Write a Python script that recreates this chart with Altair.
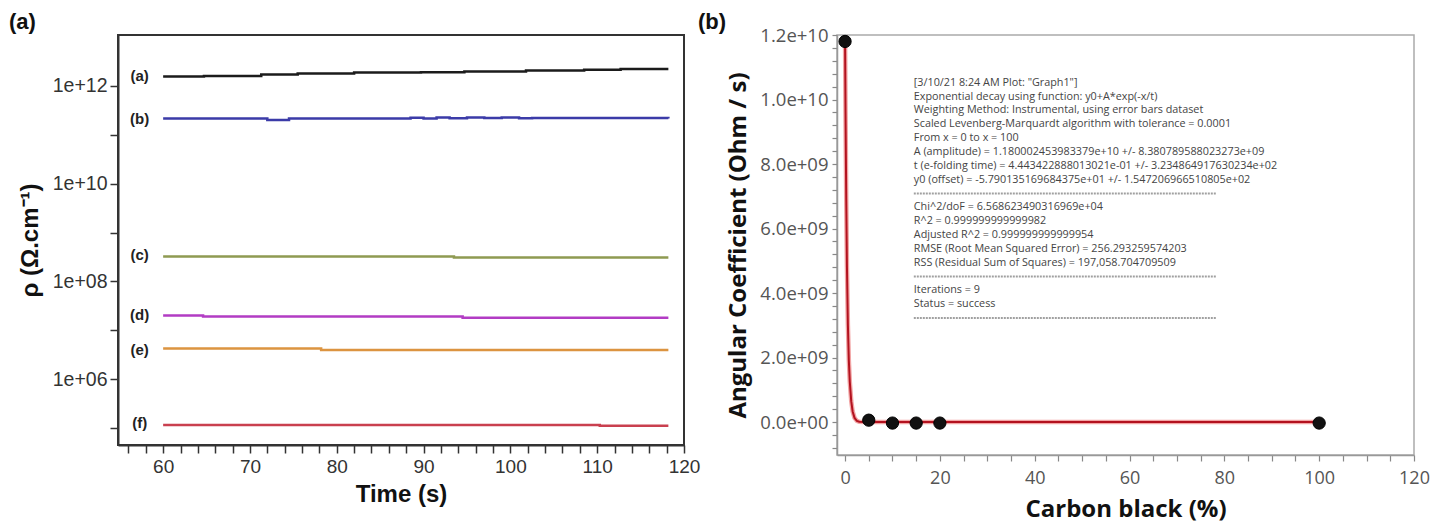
import altair as alt
import pandas as pd

# ---------------- Panel (a): resistivity vs time ----------------
series_names = ["(a)", "(b)", "(c)", "(d)", "(e)", "(f)"]
series_colors = ["#1b1b1b", "#3b3ba8", "#8f9a52", "#b23cc4", "#dc9440", "#c9404f"]

t_a = [60, 64.7, 71.3, 75.5, 82, 89.7, 94.7, 101.8, 108.5, 112.7, 118.2]
v_a = [1.56e12, 1.60e12, 1.71e12, 1.80e12, 1.88e12, 1.91e12, 1.97e12, 2.07e12, 2.13e12, 2.23e12, 2.23e12]
t_b = [60, 72, 74.5, 88.5, 90, 91.5, 93, 95, 97, 99, 101, 102.5, 118.2]
v_b = [2.15e11, 2.01e11, 2.15e11, 2.22e11, 2.15e11, 2.25e11, 2.18e11, 2.25e11, 2.2e11, 2.25e11, 2.17e11, 2.2e11, 2.15e11]
t_c = [60, 93.5, 118.2]
v_c = [3.24e8, 3.09e8, 3.09e8]
t_d = [60, 64.6, 94.5, 118.2]
v_d = [2.01e7, 1.92e7, 1.80e7, 1.80e7]
t_e = [60, 78.2, 118.2]
v_e = [4.24e6, 3.97e6, 3.97e6]
t_f = [60, 110.3, 118.2]
v_f = [1.16e5, 1.12e5, 1.12e5]

label_t = 57.3
label_v = [1.56e12, 2.15e11, 3.5e8, 2.05e7, 4.0e6, 1.25e5]

left_x_ticks = list(range(56, 121, 2))
left_y_ticks = [1e5, 1e6, 1e7, 1e8, 1e9, 1e10, 1e11, 1e12]
left_y_labels = ["", "1e+06", "", "1e+08", "", "1e+10", "", "1e+12"]

# ---------------- Panel (b): angular coefficient vs carbon black ----------------
carbon = [0, 5, 10, 15, 20, 100]
coef = [1.18e10, 6e7, -3e7, -3e7, -3e7, -3e7]

fit_x = [0, 0.1, 0.25, 0.4, 0.6, 0.8, 1.0, 1.3, 1.6, 2.0, 2.5, 3.0, 4.0, 5, 10, 20, 50, 100]
fit_y = [1.18e10, 9.6e9, 6.9e9, 4.8e9, 3.0e9, 1.9e9, 1.25e9, 6.5e8, 3.3e8, 1.3e8, 4e7, 1e7, 0, 0, 0, 0, 0, 0]

right_x_ticks = list(range(0, 121, 5))
right_y_ticks = [-8e8, -4e8] + [i * 4e8 for i in range(0, 31)]
right_y_major = [0, 2e9, 4e9, 6e9, 8e9, 1e10, 1.2e10]
right_y_major_labels = ["0.0e+00", "2.0e+09", "4.0e+09", "6.0e+09", "8.0e+09", "1.0e+10", "1.2e+10"]

# fit report ("" marks a separator row)
fit_lines = [
    '[3/10/21 8:24 AM Plot: "Graph1"]',
    "Exponential decay using function: y0+A*exp(-x/t)",
    "Weighting Method: Instrumental, using error bars dataset",
    "Scaled Levenberg-Marquardt algorithm with tolerance = 0.0001",
    "From x = 0 to x = 100",
    "A (amplitude) = 1.180002453983379e+10 +/- 8.380789588023273e+09",
    "t (e-folding time) = 4.443422888013021e-01 +/- 3.234864917630234e+02",
    "y0 (offset) = -5.790135169684375e+01 +/- 1.547206966510805e+02",
    "",
    "Chi^2/doF = 6.568623490316969e+04",
    "R^2 = 0.999999999999982",
    "Adjusted R^2 = 0.999999999999954",
    "RMSE (Root Mean Squared Error) = 256.293259574203",
    "RSS (Residual Sum of Squares) = 197,058.704709509",
    "",
    "Iterations = 9",
    "Status = success",
    "",
]
fit_text_x = 14.5
fit_text_top = 1.052e10
fit_line_step = 4.29e8
sep_x_end = 78.2


def label_expr(values, labels):
    expr = "''"
    for v, l in zip(values, labels):
        expr = f"abs(datum.value - {v!r}) < 1 ? '{l}' : ({expr})"
    return expr


# ---------------- build data tables ----------------
rows = []
for name, ts, vs in zip(series_names, [t_a, t_b, t_c, t_d, t_e, t_f], [v_a, v_b, v_c, v_d, v_e, v_f]):
    for t, v in zip(ts, vs):
        rows.append({"series": name, "t": t, "v": v})
df_left = pd.DataFrame(rows)
df_lab = pd.DataFrame({"label": series_names, "t": [label_t] * 6, "v": label_v})

LFONT = "Liberation Sans"
RFONT = "Open Sans"

lx = alt.X("t:Q", scale=alt.Scale(domain=[54.8, 120], nice=False, zero=False),
           axis=alt.Axis(values=left_x_ticks, labelExpr="datum.value % 10 == 0 ? datum.value : ''",
                         title="Time (s)", grid=False, domainColor="#333", domainWidth=2,
                         tickColor="#333", tickWidth=1.5, tickSize=8, labelFont=LFONT,
                         labelFontSize=19, labelColor="#333", labelPadding=4,
                         titleFont=LFONT, titleFontSize=24, titleFontWeight="bold",
                         titleColor="#111", titlePadding=6, labelFlush=False, labelOverlap=False))
ly = alt.Y("v:Q", scale=alt.Scale(type="log", domain=[4.5e4, 1.1e13], nice=False),
           axis=alt.Axis(values=left_y_ticks, labelExpr=label_expr(left_y_ticks, left_y_labels),
                         title="ρ (Ω.cm⁻¹)", grid=False, domainColor="#333", domainWidth=2,
                         tickColor="#333", tickWidth=1.5, tickSize=8, labelFont=LFONT,
                         labelFontSize=19.5, labelColor="#333", labelPadding=3,
                         titleFont=LFONT, titleFontSize=24, titleFontWeight="bold",
                         titleColor="#111", titlePadding=10, labelFlush=False, labelOverlap=False))

left_lines = alt.Chart(df_left).mark_line(interpolate="step-after", strokeWidth=2.5).encode(
    x=lx, y=ly,
    color=alt.Color("series:N", scale=alt.Scale(domain=series_names, range=series_colors), legend=None),
    detail="series:N",
)
left_labels = alt.Chart(df_lab).mark_text(font=LFONT, fontWeight="bold", fontSize=15, color="#222").encode(
    x=lx, y=ly, text="label:N"
)
panel_a = alt.Chart(pd.DataFrame({"k": [0]})).mark_text(
    font=LFONT, fontWeight="bold", fontSize=22, color="#111", align="left", baseline="middle"
).encode(x=alt.value(-109), y=alt.value(-13), text=alt.value("(a)"))

left = alt.layer(left_lines, left_labels, panel_a).properties(
    width=566, height=410, view=alt.ViewBackground(stroke="#333", strokeWidth=2)
)

# right
df_pts = pd.DataFrame({"x": carbon, "y": coef})
df_fit = pd.DataFrame({"x": fit_x, "y": fit_y})
txt_rows, sep_rows = [], []
for i, line in enumerate(fit_lines):
    yv = fit_text_top - i * fit_line_step
    if line:
        txt_rows.append({"x": fit_text_x, "y": yv, "text": line})
    else:
        sep_rows.append({"x": fit_text_x, "x2": sep_x_end, "y": yv})
df_txt = pd.DataFrame(txt_rows)
df_sep = pd.DataFrame(sep_rows)

rx = alt.X("x:Q", scale=alt.Scale(domain=[-1.7, 120], nice=False, zero=False),
           axis=alt.Axis(values=right_x_ticks, labelExpr="datum.value % 20 == 0 ? datum.value : ''",
                         title="Carbon black (%)", grid=False, domainColor="#999", domainWidth=1.5,
                         tickColor="#888", tickWidth=1.2, tickSize=6, labelFont=RFONT,
                         labelFontSize=18, labelColor="#555", labelPadding=8,
                         titleFont=RFONT, titleFontSize=24, titleFontWeight="bold",
                         titleColor="#111", titlePadding=10, labelFlush=False, labelOverlap=False))
ry = alt.Y("y:Q", scale=alt.Scale(domain=[-1.02e9, 1.2e10], nice=False, zero=False),
           axis=alt.Axis(values=right_y_ticks, labelExpr=label_expr(right_y_major, right_y_major_labels),
                         title="Angular Coefficient (Ohm / s)", grid=False, domainColor="#999",
                         domainWidth=1.5, tickColor="#888", tickWidth=1.2, tickSize=5,
                         labelFont=RFONT, labelFontSize=18.5, labelColor="#555", labelPadding=4,
                         titleFont=RFONT, titleFontSize=24, titleFontWeight="bold",
                         titleColor="#111", titlePadding=9, labelFlush=False, labelOverlap=False))

fit_halo = alt.Chart(df_fit).mark_line(color="#f2a5a5", strokeWidth=4.5).encode(x=rx, y=ry)
fit_line = alt.Chart(df_fit).mark_line(color="#b3121f", strokeWidth=2).encode(x=rx, y=ry)
pts = alt.Chart(df_pts).mark_circle(size=150, color="#111", opacity=1, stroke="#000", strokeWidth=1).encode(x=rx, y=ry)
txt = alt.Chart(df_txt).mark_text(font=RFONT, fontSize=10.8, color="#444", align="left",
                                  baseline="middle").encode(x=rx, y=ry, text="text:N")
seps = alt.Chart(df_sep).mark_rule(color="#a0a0a0", strokeWidth=2, strokeDash=[2, 1]).encode(
    x=rx, x2="x2:Q", y=ry)
panel_b = alt.Chart(pd.DataFrame({"k": [0]})).mark_text(
    font=LFONT, fontWeight="bold", fontSize=22, color="#111", align="left", baseline="middle"
).encode(x=alt.value(-139), y=alt.value(-13), text=alt.value("(b)"))

right = alt.layer(fit_halo, fit_line, pts, txt, seps, panel_b).properties(
    width=577, height=420, view=alt.ViewBackground(stroke="#aaa", strokeWidth=1.5)
)

chart = alt.hconcat(left, right, spacing=153, bounds="flush").properties(
    padding={"left": 0, "top": 2, "right": 0, "bottom": 0}
).configure(background="white").configure_axis(labelOverlap=False)

chart.save("out.html", embed_options={"renderer": "svg", "actions": False})
